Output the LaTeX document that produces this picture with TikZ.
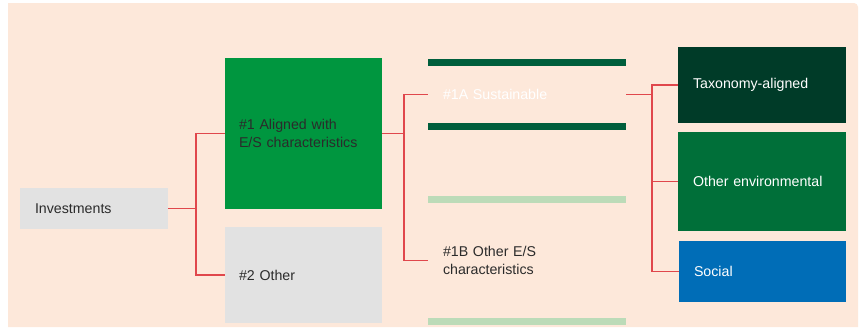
\documentclass[tikz,border=0pt]{standalone}
\usepackage{fontspec}
\setmainfont{Liberation Sans}
\definecolor{bgc}{HTML}{FDE8DA}
\definecolor{grn}{HTML}{00963F}
\definecolor{gry}{HTML}{E2E2E2}
\definecolor{redl}{HTML}{E0474C}
\definecolor{dbar}{HTML}{005E3C}
\definecolor{lbar}{HTML}{BCDBB8}
\definecolor{taxc}{HTML}{003B28}
\definecolor{envc}{HTML}{006F39}
\definecolor{socc}{HTML}{006DB7}
\definecolor{txt}{HTML}{2B2B2B}
\begin{document}
\begin{tikzpicture}[x=1pt,y=-1pt,
  box/.style={inner ysep=0pt, align=left, font=\fontsize{14.2}{18}\selectfont, text=txt},
  conn/.style={draw=redl, line width=1.5pt}]
\useasboundingbox (0,0) rectangle (859,327);
\fill[white] (0,0) rectangle (859,327);
\fill[bgc] (8,327) -- (8,3) -- (854,3) arc[start angle=90, end angle=0, radius=4pt] -- (858,327) -- cycle;
% bars
\fill[dbar] (428,59) rectangle (626,66);
\fill[dbar] (428,123) rectangle (626,130);
\fill[lbar] (428,196) rectangle (626,203);
\fill[lbar] (428,318) rectangle (626,325);
% nodes
\node[box, fill=gry, minimum width=148pt, minimum height=41pt, text width=118pt, inner xsep=15pt] (inv) at (94,208.5) {Investments};
\node[box, fill=grn, minimum width=157pt, minimum height=151pt, text width=129pt, inner xsep=14pt] (a1) at (303.5,133.5) {\#1 Aligned with\\E/S characteristics};
\node[box, fill=gry, minimum width=157pt, minimum height=96pt, text width=129pt, inner xsep=14pt] (o2) at (303.5,275) {\#2 Other};
\node[box, text=white, minimum width=198pt, minimum height=57pt, text width=168pt, inner xsep=15pt] (sus) at (527,94.5) {\#1A Sustainable};
\node[box, minimum width=198pt, minimum height=115pt, text width=168pt, inner xsep=15pt] (ob) at (527,260.5) {\#1B Other E/S\\characteristics};
\node[box, text=white, fill=taxc, minimum width=168pt, minimum height=76pt, text width=138pt, inner xsep=15pt] (tax) at (762,85) {Taxonomy-aligned};
\node[box, text=white, fill=envc, minimum width=168pt, minimum height=99pt, text width=138pt, inner xsep=15pt] (env) at (762,181.5) {Other environmental};
\node[box, text=white, fill=socc, minimum width=167pt, minimum height=61pt, text width=137pt, inner xsep=15pt] (soc) at (762.5,271.5) {Social};
% junctions
\coordinate (j1) at (196,208.5);
\coordinate (j2) at (404,133.5);
\coordinate (j3) at (652,94.5);
% connectors
\draw[conn] (inv.east) -- (j1) |- (a1.west);
\draw[conn] (j1) |- (o2.west);
\draw[conn] (a1.east) -- (j2) |- (sus.west);
\draw[conn] (j2) |- (ob.west);
\draw[conn] (sus.east) -- (j3) |- (tax.west);
\draw[conn] (j3) |- (env.west);
\draw[conn] (j3) |- (soc.west);
\end{tikzpicture}
\end{document}
